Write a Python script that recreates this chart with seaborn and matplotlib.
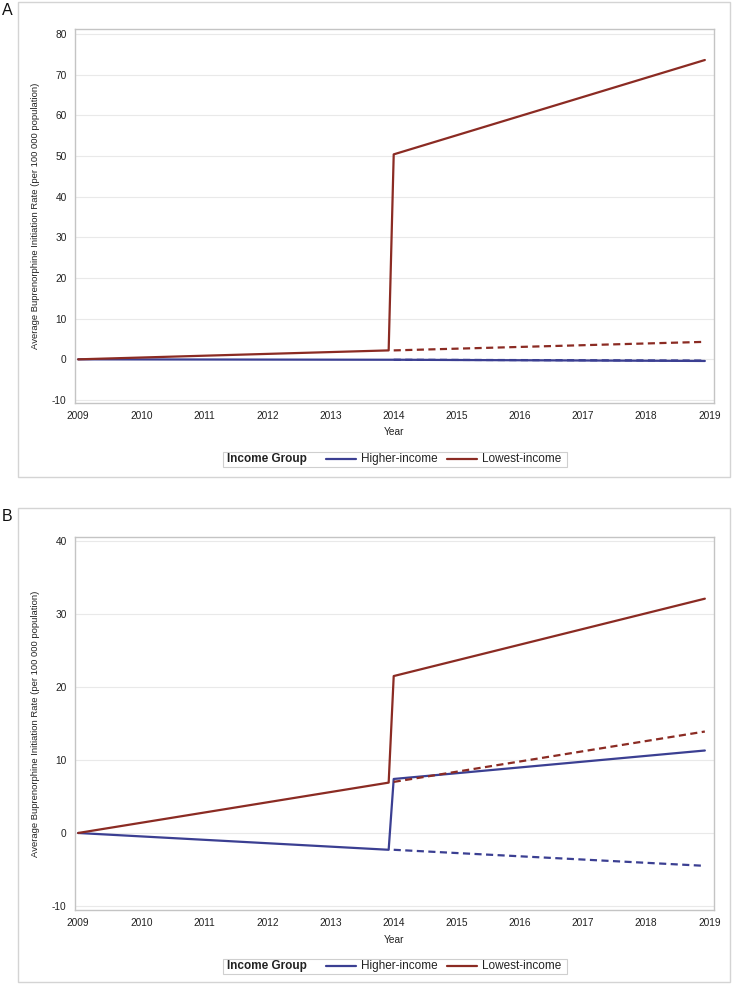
import numpy as np
import pandas as pd
import matplotlib
matplotlib.use("Agg")
import matplotlib.pyplot as plt
import seaborn as sns
from matplotlib.patches import Rectangle
from matplotlib.lines import Line2D

# ---------------- data ----------------
years_solid = [2009.0, 2013.92, 2014.0, 2018.93]
years_cf = [2014.0, 2018.93]

a_low_solid = [0.0, 2.2, 50.4, 73.6]
a_low_cf = [2.2, 4.3]
a_high_solid = [0.0, -0.1, -0.1, -0.4]
a_high_cf = [-0.1, -0.3]

b_low_solid = [0.0, 6.9, 21.5, 32.1]
b_low_cf = [7.0, 13.9]
b_high_solid = [0.0, -2.3, 7.4, 11.3]
b_high_cf = [-2.3, -4.5]

groups = ["Higher-income", "Lowest-income"]
kinds = ["Observed", "Counterfactual"]
x_ticks = list(range(2009, 2020))
a_y_ticks = list(range(-10, 81, 10))
b_y_ticks = list(range(-10, 41, 10))
panel_labels = ["A", "B"]
y_title = "Average Buprenorphine Initiation Rate (per 100 000 population)"
x_title = "Year"
legend_title = "Income Group"

colors = {"Higher-income": "#3b3f92", "Lowest-income": "#8b2b23"}
dash_map = {"Observed": "", "Counterfactual": (3.2, 2.0)}


def build_df(high_solid, high_cf, low_solid, low_cf):
    rows = []
    for grp, solid, cf in [("Higher-income", high_solid, high_cf),
                           ("Lowest-income", low_solid, low_cf)]:
        for x, y in zip(years_solid, solid):
            rows.append((x, y, grp, "Observed"))
        for x, y in zip(years_cf, cf):
            rows.append((x, y, grp, "Counterfactual"))
    return pd.DataFrame(rows, columns=["Year", "Rate", "Group", "Kind"])


df_a = build_df(a_high_solid, a_high_cf, a_low_solid, a_low_cf)
df_b = build_df(b_high_solid, b_high_cf, b_low_solid, b_low_cf)

sns.set_style("white")
plt.rcParams["font.family"] = ["Liberation Sans", "DejaVu Sans"]
plt.rcParams["axes.unicode_minus"] = False

W, H = 733, 985
fig = plt.figure(figsize=(W / 100, H / 100), dpi=100)


def fx(px):
    return px / W


def fy(py):
    return 1 - py / H


# axes rectangles in pixels (left, top, right, bottom)
ax_specs = [
    dict(df=df_a, rect=(75, 29.3, 714, 402.7), ylim=(-10.66, 81.15), yt=a_y_ticks,
         box=(18, 2, 730, 477), leg_y=459.2, lab_y=3),
    dict(df=df_b, rect=(75, 537, 714, 910), ylim=(-10.55, 40.55), yt=b_y_ticks,
         box=(18, 508, 730, 982), leg_y=966, lab_y=509),
]

for spec, plab in zip(ax_specs, panel_labels):
    l, t, r, b = spec["rect"]
    ax = fig.add_axes([fx(l), fy(b), fx(r) - fx(l), fy(t) - fy(b)])
    sns.lineplot(data=spec["df"], x="Year", y="Rate", hue="Group", style="Kind",
                 hue_order=groups, style_order=kinds, palette=colors,
                 dashes=dash_map, estimator=None, sort=False, legend=False,
                 linewidth=1.6, ax=ax)
    ax.set_xlim(2008.95, 2019.075)
    ax.set_ylim(*spec["ylim"])
    ax.set_xticks(x_ticks)
    ax.set_yticks(spec["yt"])
    ax.grid(axis="y", color="#e9e9e9", linewidth=0.8)
    ax.set_axisbelow(True)
    for s in ax.spines.values():
        s.set_color("#c4c4c4")
        s.set_linewidth(1.0)
    ax.tick_params(axis="both", length=4, width=0.8, color="#a8a8a8",
                   labelsize=7.3, labelcolor="#222222", pad=2)
    ax.set_xlabel(x_title, fontsize=7.3, color="#222222")
    ax.set_ylabel(y_title, fontsize=6.8, color="#222222")
    ax.xaxis.set_label_coords(0.5, -0.066)
    ax.yaxis.set_label_coords(-0.055, 0.5)

    # outer panel box
    bl, bt, br, bb = spec["box"]
    fig.add_artist(Rectangle((fx(bl), fy(bb)), fx(br) - fx(bl), fy(bt) - fy(bb),
                             transform=fig.transFigure, fill=False,
                             edgecolor="#d4d4d4", linewidth=1.0))
    # panel label
    fig.text(fx(1.5), fy(spec["lab_y"]), plab, fontsize=11.5, va="top", ha="left",
             color="#111111")

    # legend (manual)
    ly = spec["leg_y"]
    fig.add_artist(Rectangle((fx(222.7), fy(ly + 7.5)), fx(566.7) - fx(222.7),
                             fy(ly - 7.5) - fy(ly + 7.5),
                             transform=fig.transFigure, fill=False,
                             edgecolor="#cfcfcf", linewidth=0.8))
    fig.text(fx(227), fy(ly), legend_title, fontsize=8.5, fontweight="bold",
             va="center", ha="left", color="#222222")
    for (x1, x2, tx), grp in zip([(326, 356, 361), (447, 477, 482)], groups):
        fig.add_artist(Line2D([fx(x1), fx(x2)], [fy(ly), fy(ly)],
                              transform=fig.transFigure, color=colors[grp],
                              linewidth=1.6))
        fig.text(fx(tx), fy(ly), grp, fontsize=8.5, va="center", ha="left",
                 color="#222222")

fig.savefig("out.png", dpi=100)
